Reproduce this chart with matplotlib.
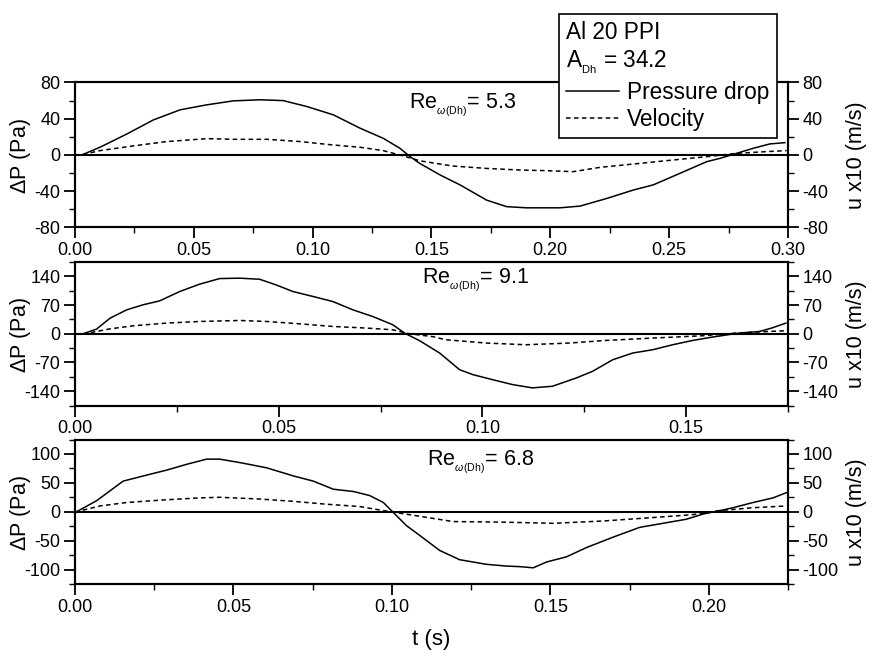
import matplotlib
matplotlib.use("Agg")
import matplotlib.pyplot as plt
from matplotlib.ticker import MultipleLocator, FormatStrFormatter
from matplotlib.lines import Line2D

plt.rcParams['font.family'] = ['Liberation Sans', 'DejaVu Sans']
plt.rcParams['mathtext.fontset'] = 'custom'
plt.rcParams['mathtext.rm'] = 'Liberation Sans'
plt.rcParams['mathtext.it'] = 'Liberation Sans:italic'
plt.rcParams['mathtext.bf'] = 'Liberation Sans:bold'
plt.rcParams['axes.unicode_minus'] = False

# ---------------- data ----------------
# Panel 1 (Re = 5.3)
t1_p = [0.0, 0.0028, 0.0105, 0.0217, 0.033, 0.0442, 0.0554, 0.0666, 0.0778, 0.0876,
        0.0975, 0.1087, 0.12, 0.1297, 0.1367, 0.141, 0.145, 0.1536, 0.162, 0.1732,
        0.1816, 0.19, 0.204, 0.2125, 0.2237, 0.2349, 0.2433, 0.2545, 0.2658, 0.2714,
        0.2784, 0.2854, 0.2924, 0.2987]
p1 = [0.0, 0.0, 8.5, 23, 38.7, 49.8, 55.3, 59.7, 60.9, 60,
      53.5, 44.3, 29.5, 18.4, 7.4, -1.8, -9.2, -22, -33, -49.8,
      -57, -58.3, -58.3, -56.4, -48, -38.7, -33, -20.3, -7.4, -3.7,
      1.8, 7.4, 12.2, 13.6]
t1_u = [0.0, 0.0025, 0.0105, 0.0245, 0.0386, 0.0554, 0.0666, 0.0807, 0.0947, 0.1087,
        0.12, 0.1297, 0.1367, 0.1452, 0.159, 0.173, 0.187, 0.1985, 0.2097, 0.221,
        0.2349, 0.2518, 0.2686, 0.2784, 0.291, 0.2994]
u1 = [0.0, 0.0, 4.8, 10, 14.8, 18, 17.3, 17.3, 14.8, 11,
      8.5, 4.8, 0.0, -6.5, -12.2, -14.8, -16.6, -17.3, -18.4, -13.6,
      -10, -5.5, -1.1, 1.8, 3.7, 4.8]

# Panel 2 (Re = 9.1)
t2_p = [0.0, 0.002, 0.0053, 0.0086, 0.0127, 0.0167, 0.0208, 0.0257, 0.0306, 0.0355,
        0.0404, 0.0453, 0.0494, 0.0535, 0.0584, 0.0633, 0.0682, 0.0731, 0.078, 0.0809,
        0.0846, 0.0895, 0.0944, 0.0977, 0.1025, 0.1074, 0.1123, 0.1172, 0.123, 0.127,
        0.132, 0.1369, 0.1418, 0.1467, 0.1516, 0.1565, 0.163, 0.168, 0.171, 0.1745]
p2 = [0.0, 0.0, 11.4, 38, 58.4, 70.6, 80.3, 103, 121, 134.6,
      135.6, 133, 119, 103, 91, 78.6, 58.4, 42, 22, 1.6,
      -17, -47, -87.7, -99.8, -112, -124, -132, -128, -108, -91.8,
      -63.3, -47, -39, -26.8, -16.3, -8, 1.6, 5.6, 13.9, 26]
t2_u = [0.0, 0.0025, 0.0086, 0.0143, 0.0225, 0.0306, 0.0404, 0.047, 0.0551, 0.0633,
        0.0715, 0.078, 0.0821, 0.0878, 0.091, 0.101, 0.1107, 0.1213, 0.1303, 0.1418,
        0.154, 0.162, 0.1703, 0.1745]
u2 = [0.0, 0.0, 12, 19.5, 26, 30, 32.4, 30, 24.3, 17.8,
      13.9, 9.7, 0.0, -7, -14.6, -22.7, -26.8, -22.7, -16.3, -10.5,
      -4.9, 1.6, 5.6, 7.3]

# Panel 3 (Re = 6.8)
t3_p = [0.0, 0.0005, 0.0068, 0.011, 0.0152, 0.0216, 0.0289, 0.0352, 0.0415, 0.0457,
        0.0521, 0.0605, 0.0689, 0.0752, 0.0815, 0.0879, 0.093, 0.0973, 0.1004, 0.1046,
        0.1088, 0.1151, 0.1214, 0.1299, 0.1362, 0.1404, 0.1446, 0.1488, 0.1551, 0.1614,
        0.1698, 0.1782, 0.1845, 0.1929, 0.1982, 0.2035, 0.2077, 0.214, 0.2203, 0.2245]
p3 = [0.0, 0.0, 19, 36, 53, 62, 72, 82, 91, 91,
      85, 76, 62, 53, 39, 35, 28, 16, -1, -24,
      -41, -67, -83, -91, -94, -95, -97, -87, -78, -62,
      -44, -27, -21, -13, -4, 2, 7, 16, 24, 33]
t3_u = [0.0, 0.0005, 0.0079, 0.0163, 0.0268, 0.0394, 0.0457, 0.0583, 0.0689, 0.0794,
        0.0899, 0.0973, 0.1078, 0.1193, 0.1351, 0.151, 0.1667, 0.1825, 0.195, 0.2035,
        0.214, 0.2245]
u3 = [0.0, 0.0, 10, 16, 20, 24, 25, 22, 18, 13,
      9, 2, -7, -17, -18, -20, -16, -10, -5, 2,
      7, 10]

re_labels = [r"Re$_{_{\omega\mathrm{(Dh)}}}$= 5.3", r"Re$_{_{\omega\mathrm{(Dh)}}}$= 9.1",
             r"Re$_{_{\omega\mathrm{(Dh)}}}$= 6.8"]
xlims = [0.30, 0.175, 0.225]
ylims = [80, 175, 125]
ymajor = [40, 70, 50]
ylab_major_ticks = [[-80, -40, 0, 40, 80], [-140, -70, 0, 70, 140], [-100, -50, 0, 50, 100]]
series = [(t1_p, p1, t1_u, u1), (t2_p, p2, t2_u, u2), (t3_p, p3, t3_u, u3)]

# ---------------- figure ----------------
fig = plt.figure(figsize=(8.73, 6.64), dpi=100)
rects = [[0.0859, 0.6574, 0.8167, 0.2184],
         [0.0859, 0.3893, 0.8167, 0.2161],
         [0.0859, 0.1205, 0.8167, 0.2176]]
re_pos = [(0.468, 0.845), (0.487, 0.878), (0.494, 0.848)]

tick_fs = 13
lab_fs = 15.5

for i in range(3):
    ax = fig.add_axes(rects[i])
    tp, pv, tu, uv = series[i]
    ax.plot(tp, pv, color='black', lw=1.1)
    ax.axhline(0, color='black', lw=1.5)
    ax.set_xlim(0, xlims[i])
    ax.set_ylim(-ylims[i], ylims[i])
    ax.set_yticks(ylab_major_ticks[i])
    ax.yaxis.set_minor_locator(MultipleLocator(ymajor[i] / 2))
    ax.xaxis.set_major_locator(MultipleLocator(0.05))
    ax.xaxis.set_minor_locator(MultipleLocator(0.025))
    ax.xaxis.set_major_formatter(FormatStrFormatter('%.2f'))
    ax.tick_params(which='major', direction='out', length=8, width=1.3,
                   labelsize=tick_fs, pad=2.5, top=False)
    ax.tick_params(which='minor', direction='out', length=4.5, width=1.0, top=False)
    for s in ax.spines.values():
        s.set_linewidth(1.5)
    ax.set_ylabel(r"$\Delta$P (Pa)", fontsize=lab_fs, va='center')
    ax.yaxis.set_label_coords(-0.0771, 0.49)

    axr = ax.twinx()
    axr.plot(tu, uv, color='black', lw=1.1, ls=(0, (3, 2.2)))
    axr.set_ylim(-ylims[i], ylims[i])
    axr.set_yticks(ylab_major_ticks[i])
    axr.yaxis.set_minor_locator(MultipleLocator(ymajor[i] / 2))
    axr.tick_params(which='major', direction='out', length=8, width=1.3,
                    labelsize=tick_fs, pad=2.5)
    axr.tick_params(which='minor', direction='out', length=4.5, width=1.0)
    for s in axr.spines.values():
        s.set_linewidth(1.5)
    axr.set_ylabel("u x10 (m/s)", fontsize=lab_fs, va='center', rotation=90)
    axr.yaxis.set_label_coords(1.096, 0.5)

    ax.text(re_pos[i][0], re_pos[i][1], re_labels[i], transform=ax.transAxes,
            fontsize=15.5, ha='left', va='center')
    if i == 2:
        ax.set_xlabel("t (s)", fontsize=lab_fs + 0.5, va='center')
        ax.xaxis.set_label_coords(0.5, -0.3875)

# legend box
handles = [Line2D([], [], color='black', lw=1.1),
           Line2D([], [], color='black', lw=1.1, ls=(0, (3, 2.2)))]
leg = fig.legend(handles, ["Pressure drop", "Velocity"],
                 title="Al 20 PPI\nA$_{_{\\mathrm{Dh}}}$ = 34.2",
                 loc='upper left', bbox_to_anchor=(0.6403, 0.979),
                 fontsize=16.3, title_fontsize=16.3, alignment='left',
                 frameon=True, fancybox=False, edgecolor='black',
                 framealpha=1.0, handlelength=2.35, handletextpad=0.35,
                 labelspacing=0.2, borderpad=0.32, borderaxespad=0.0)
leg.get_title().set_linespacing(1.22)
leg.get_frame().set_linewidth(1.2)

fig.savefig("out.png", dpi=100)
